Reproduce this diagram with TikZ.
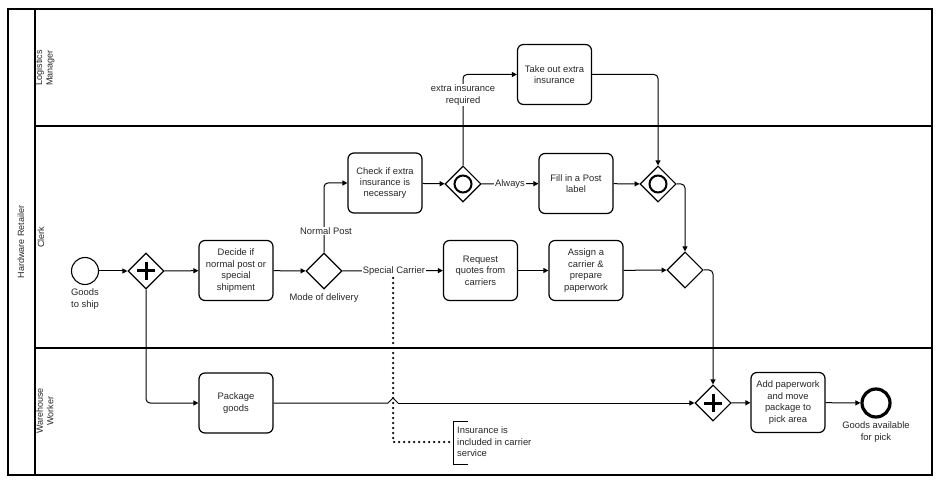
\documentclass[tikz,border=0pt]{standalone}
\usepackage{fontspec}
\setmainfont{Liberation Sans}
\usetikzlibrary{shapes.geometric,arrows.meta,calc}
\begin{document}
\begin{tikzpicture}[x=1pt,y=-1pt,
  every node/.style={font=\fontsize{9.4}{11.4}\selectfont, text=black!85},
  task/.style={draw, line width=1.2pt, rounded corners=6pt, minimum width=74pt, minimum height=60pt, align=center, inner sep=1pt},
  gate/.style={draw, line width=1.1pt, diamond, minimum width=36pt, minimum height=36pt, inner sep=0pt},
  flow/.style={line width=1pt, rounded corners=4pt, -{Triangle[length=5pt,width=5pt]}},
  lbl/.style={align=center, inner sep=1pt},
  wlbl/.style={align=center, inner sep=1pt, fill=white},
  lane/.style={line width=1.5pt},
  lanetext/.style={rotate=90, align=center, inner sep=0pt, font=\fontsize{9}{10.5}\selectfont}
]
\useasboundingbox (0,0) rectangle (940,481);
% pool and lanes
\draw[lane] (8,9) rectangle (932,475);
\draw[lane] (35,9) -- (35,475);
\draw[lane] (35,126) -- (932,126);
\draw[lane] (35,348) -- (932,348);
\node[lanetext] (pool) at (21,242) {Hardware Retailer};
\node[lanetext] (l1) at (45,68) {Logistics\\Manager};
\node[lanetext] (l2) at (41,237) {Clerk};
\node[lanetext] (l3) at (45,411) {Warehouse\\Worker};

% nodes
\node[draw, circle, line width=1.1pt, minimum size=27pt, inner sep=0] (start) at (85,271) {};
\node[lbl] (startl) at (85,299) {Goods\\to ship};
\node[gate] (gw1) at (146,271) {};
\draw[line width=3pt] ($(gw1)+(-9,0)$) -- ($(gw1)+(9,0)$);
\draw[line width=3pt] ($(gw1)+(0,-9)$) -- ($(gw1)+(0,9)$);
\node[task] (decide) at (236,270.5) {Decide if\\normal post or\\special\\shipment};
\node[gate] (mode) at (324,271) {};
\node[lbl] (model) at (324,298) {Mode of delivery};
\node[task] (check) at (385,183) {Check if extra\\insurance is\\necessary};
\node[gate] (gi1) at (463,184) {};
\draw[line width=2pt] (gi1) circle (8.5);
\node[task] (take) at (554.5,74.5) {Take out extra\\insurance};
\node[task] (fill) at (576,183.5) {Fill in a Post\\label};
\node[gate] (gi2) at (658,184) {};
\draw[line width=2pt] (gi2) circle (8.5);
\node[gate] (gw3) at (685,270) {};
\node[task] (req) at (480.5,270.5) {Request\\quotes from\\carriers};
\node[task] (assign) at (586,270.5) {Assign a\\carrier \&\\prepare\\paperwork};
\node[task] (pkg) at (236,403) {Package\\goods};
\node[gate] (gw4) at (713,403) {};
\draw[line width=3pt] ($(gw4)+(-9,0)$) -- ($(gw4)+(9,0)$);
\draw[line width=3pt] ($(gw4)+(0,-9)$) -- ($(gw4)+(0,9)$);
\node[task] (add) at (788,402.5) {Add paperwork\\and move\\package to\\pick area};
\node[draw, circle, line width=3.2pt, minimum size=28pt, inner sep=0] (end) at (876,403) {};
\node[lbl] (endl) at (876,432) {Goods available\\for pick};

% flows
\draw[flow] (start) -- (gw1);
\draw[flow] (gw1) -- (decide);
\draw[flow] (decide) -- (mode);
\draw[flow] (mode.north) |- (check.west);
\node[wlbl] (np) at (326,231) {Normal Post};
\draw[flow] (check) -- (gi1);
\draw[flow] (gi1.north) |- (take.west);
\node[wlbl] (eir) at (463,95) {extra insurance\\required};
\draw[flow] (gi1) -- (fill);
\node[wlbl] (alw) at (510,184) {Always};
\draw[flow] (take.east) -| (gi2.north);
\draw[flow] (fill) -- (gi2);
\draw[flow] (gi2.east) -| (gw3.north);
\draw[flow] (gw3.east) -| (gw4.north);
\draw[flow] (mode) -- (req);
\node[wlbl] (sc) at (394,271) {Special Carrier};
\draw[flow] (req) -- (assign);
\draw[flow] (assign) -- (gw3);
\draw[flow] (gw1.south) |- (pkg.west);
\coordinate (hopL) at (388,403);
\coordinate (hopT) at (393,398);
\coordinate (hopR) at (398,403);
\draw[line width=1pt] (pkg.east) -- (hopL) -- (hopT) -- (hopR);
\draw[flow] (hopR) -- (gw4.west);
\draw[flow] (gw4) -- (add);
\draw[flow] (add) -- (end);

% annotation
\node[lbl, anchor=west, align=left] (ann) at (456,442) {Insurance is\\included in carrier\\service};
\draw[line width=1pt] (468,421) -- (453,421) -- (453,464) -- (468,464);
\coordinate (assocA) at (393,278);
\coordinate (assocB) at (453,442);
\draw[line width=2.5pt, line cap=round, dash pattern=on 0pt off 5pt] (assocA) |- (assocB);
\end{tikzpicture}
\end{document}
